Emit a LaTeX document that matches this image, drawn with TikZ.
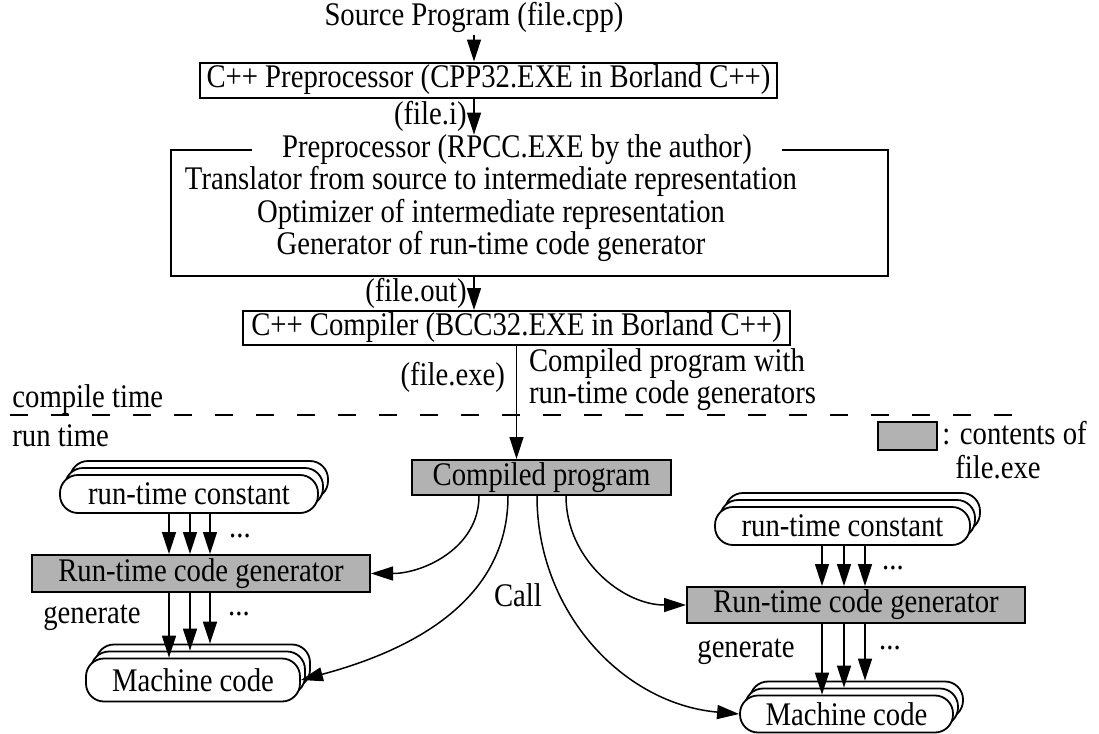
\documentclass[tikz,border=0pt]{standalone}
\usepackage{fontspec}
\setmainfont[FakeStretch = 0.87]{Liberation Serif}
\usetikzlibrary{arrows.meta}
\usetikzlibrary{calc}

\tikzset{
  box/.style = {draw, line width = 1pt, inner sep = 0pt},
  gen/.style = {box, fill = black!30},
  capsule/.style = {draw, line width = 0.9pt, fill = white, rounded corners = 9pt, inner sep = 0pt},
  arr/.style = {-{Triangle[length = 11pt, width = 7pt]}, line width = 0.75pt},
  dots/.style = {inner sep = 0pt},
}

\begin{document}
\begin{tikzpicture}[x = 0.5pt, y = -0.5pt, font = \fontsize{16.5}{14.5}\selectfont] % pixel grid, y down
    \useasboundingbox (0, 0) rectangle (1099, 734);

    % Compile time chain
    \node[anchor = base, inner sep = 0pt] (src) at (474, 25) {Source Program (file.cpp)};
    \node[box, minimum width = 288.5pt, minimum height = 17.5pt] (cpp) at (488.5, 80) {C++ Preprocessor (CPP32.EXE in Borland C++)};
    \node[box, minimum width = 358.5pt, minimum height = 63pt] (rpcc) at (529.5, 213) {};
    \node[fill = white, inner xsep = 15pt, inner ysep = 0pt] (rpcct) at (517, 150) {Preprocessor (RPCC.EXE by the author)};
    \node[align = center] (rpccl) at (491, 214) {Translator from source to intermediate representation\\Optimizer of intermediate representation\\Generator of run-time code generator};
    \node[box, minimum width = 273.5pt, minimum height = 17pt] (bcc) at (516.5, 328) {C++ Compiler (BCC32.EXE in Borland C++)};

    \draw[arr] ([yshift = -1pt]src.south) -- (src.south |- cpp.north);
    \draw[arr] (src.south |- cpp.south) -- (src.south |- rpcct.north) node[midway, left] {(file.i)};
    \draw[arr] (src.south |- rpcc.south) -- (src.south |- bcc.north) node[midway, left] {(file.out)};

    % Border between compile time and run time
    \coordinate (ctL) at (10, 415);
    \coordinate (ctR) at (1016, 415);
    \draw[dash pattern = on 9pt off 11.5pt, line width = 0.9pt] (ctL) -- (ctR);
    \node[anchor = base west, inner sep = 0pt] (ctime) at (12, 407) {compile time};
    \node[anchor = base west, inner sep = 0pt] (rtime) at (12, 446) {run time};

    % Legend
    \node[gen, minimum width = 29.5pt, minimum height = 14pt] (key) at (907.5, 436) {};
    \node[anchor = base west, inner sep = 0pt] (keytxt) at (942, 444) {: contents of};
    \node[anchor = base west, inner sep = 0pt] (keyexe) at (955, 478) {file.exe};

    % Run time
    \node[gen, minimum width = 129.5pt, minimum height = 17.5pt] (cp) at (541.5, 477.5) {Compiled program};
    \draw[arr] (bcc.south) -- (bcc.south |- cp.north);
    \node[anchor = east] (exe) at (512, 377) {(file.exe)};
    \node[anchor = west, align = left] (withgen) at (522, 380) {Compiled program with\\run-time code generators};

    % Left generator
    \foreach \s in {2, 1}
        \node[capsule, minimum width = 129pt, minimum height = 19pt] (rtcL\s) at ($(189, 494) + (5*\s, -7*\s)$) {};
    \node[capsule, minimum width = 129pt, minimum height = 19pt] (rtcL) at (189, 494) {run-time constant};
    \node[gen, minimum width = 169pt, minimum height = 18.5pt] (rtcgL) at (201, 573.5) {Run-time code generator};
    \foreach \s in {2, 1}
        \node[capsule, minimum width = 107pt, minimum height = 21.5pt] (mcL\s) at ($(193, 680) + (5*\s, -7*\s)$) {};
    \node[capsule, minimum width = 107pt, minimum height = 21.5pt] (mcL) at (193, 680) {Machine code};

    \foreach \a/\b in {-10pt/-16pt, 0.5pt/-5.5pt, 10.5pt/4.5pt}
        \draw[arr] ([xshift = \a]rtcL.south) -- ([xshift = \b]rtcgL.north);
    \draw[arr] ([xshift = -16pt]rtcgL.south) -- ([xshift = -12pt]mcL.north);
    \draw[arr] ([xshift = -5.5pt]rtcgL.south) -- ([xshift = -4pt]mcL1.north);
    \draw[arr] ([xshift = 4.5pt]rtcgL.south) -- ([xshift = 3.5pt]mcL2.north);
    \node[dots] (dotsL1) at (240, 536) {...};
    \node[dots] (dotsL2) at (239, 614) {...};
    \node (genL) at (92, 618) {generate};

    % Right generator
    \foreach \s in {2, 1}
        \node[capsule, minimum width = 127.5pt, minimum height = 19pt] (rtcR\s) at ($(842.5, 526) + (5*\s, -7*\s)$) {};
    \node[capsule, minimum width = 127.5pt, minimum height = 19pt] (rtcR) at (842.5, 526) {run-time constant};
    \node[gen, minimum width = 169pt, minimum height = 18pt] (rtcgR) at (856, 605) {Run-time code generator};
    \foreach \s in {2, 1}
        \node[capsule, minimum width = 106.5pt, minimum height = 18.5pt] (mcR\s) at ($(846.5, 714) + (5*\s, -7*\s)$) {};
    \node[capsule, minimum width = 106.5pt, minimum height = 18.5pt] (mcR) at (846.5, 714) {Machine code};

    \foreach \a/\b in {-10.25pt/-17pt, 0.75pt/-6pt, 11.25pt/4.5pt}
        \draw[arr] ([xshift = \a]rtcR.south) -- ([xshift = \b]rtcgR.north);
    \draw[arr] ([xshift = -17pt]rtcgR.south) -- ([xshift = -12.25pt]mcR.north);
    \draw[arr] ([xshift = -6pt]rtcgR.south) -- ([xshift = -3.75pt]mcR1.north);
    \draw[arr] ([xshift = 4.5pt]rtcgR.south) -- ([xshift = 4.25pt]mcR2.north);
    \node[dots] (dotsR1) at (893, 568) {...};
    \node[dots] (dotsR2) at (890, 648) {...};
    \node (genR) at (746, 652) {generate};

    % Calls
    \draw[arr] ([xshift = -31.25pt]cp.south) to[out = -90, in = 0] (rtcgL.east);
    \draw[arr] ([xshift = -16.75pt]cp.south) to[out = -90, in = 15] (mcL.east);
    \draw[arr] ([xshift = -2.25pt]cp.south) to[out = -90, in = 175] (mcR.west);
    \draw[arr] ([xshift = 12.25pt]cp.south) to[out = -90, in = 180] (rtcgR.west);
    \node (call) at (518, 595) {Call};
\end{tikzpicture}
\end{document}
